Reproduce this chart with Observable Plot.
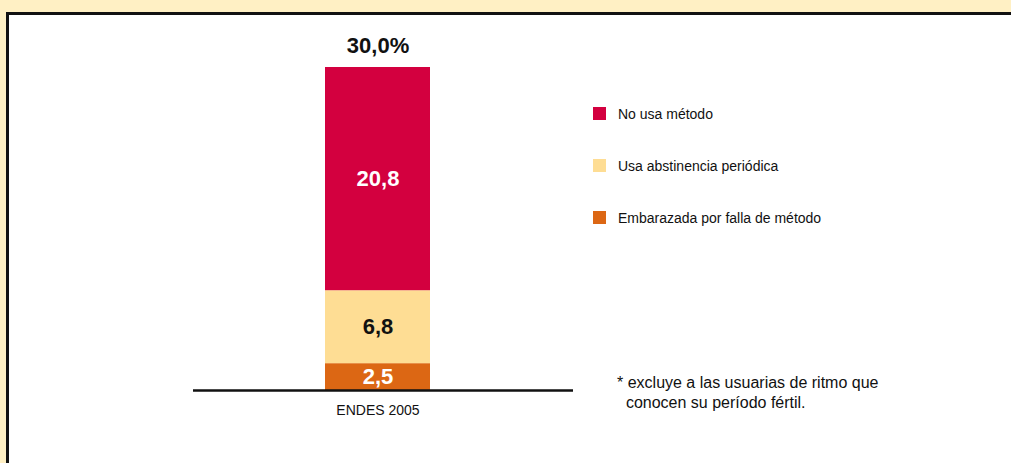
<!DOCTYPE html>
<html>
<head>
<meta charset="utf-8">
<script src="https://cdn.jsdelivr.net/npm/d3@7"></script>
<script src="https://cdn.jsdelivr.net/npm/@observablehq/plot@0.6"></script>
<style>
  html, body { margin: 0; padding: 0; }
  body { width: 1011px; height: 463px; background: #fff0c4; position: relative; overflow: hidden; font-family: "Liberation Sans", Arial, sans-serif; }
  #panel { position: absolute; left: 6px; top: 12px; right: -10px; bottom: -10px; background: #fff; border-left: 3px solid #111; border-top: 3px solid #111; }
  #chart { position: absolute; left: 0; top: 0; }
  .legend { position: absolute; left: 593px; font-size: 14px; color: #111; }
  .legend .item { position: absolute; left: 0; white-space: nowrap; height: 14px; line-height: 14px; }
  .legend .sw { display: inline-block; width: 13px; height: 13px; vertical-align: top; margin-right: 12px; }
  .note { position: absolute; left: 617px; top: 373px; font-size: 16px; line-height: 20px; color: #111; white-space: pre; }
</style>
</head>
<body>
<div id="panel"></div>
<div id="chart"></div>
<div class="legend" id="legend"></div>
<div class="note">* excluye a las usuarias de ritmo que
  conocen su período fértil.</div>
<script>
const categories = ["ENDES 2005"];
const series = ["Embarazada por falla de método", "Usa abstinencia periódica", "No usa método"];
const values = [2.5, 6.8, 20.8];
const valueLabels = ["2,5", "6,8", "20,8"];
const labelColors = ["#ffffff", "#111111", "#ffffff"];
const colors = ["#dc6714", "#fedd94", "#d3003f"];
const legendOrder = ["No usa método", "Usa abstinencia periódica", "Embarazada por falla de método"];
const totalLabel = "30,0%";

const data = series.map((s, i) => ({
  cat: categories[0], series: s, value: values[i], label: valueLabels[i], tc: labelColors[i]
}));
const total = d3.sum(values);

const labelMark = (color) => Plot.text(data, Plot.stackY({
  x: "cat", y: "value", z: "series",
  text: d => d.tc === color ? d.label : "",
  fill: color, fontSize: 22, fontWeight: "bold"
}));

const plot = Plot.plot({
  width: 1011,
  height: 463,
  marginLeft: 193,
  marginRight: 438,
  marginTop: 67,
  marginBottom: 73,
  style: { fontFamily: "'Liberation Sans', Arial, sans-serif", background: "transparent", overflow: "visible" },
  x: { domain: categories, range: [325, 430], padding: 0, axis: null },
  y: { domain: [0, total], axis: null },
  color: { domain: series, range: colors },
  marks: [
    Plot.barY(data, { x: "cat", y: "value", fill: "series" }),
    labelMark("#ffffff"),
    labelMark("#111111"),
    Plot.text([total], { x: () => categories[0], y: d => d, text: () => totalLabel, dy: -22, fontSize: 22, fontWeight: "bold", fill: "#111" }),
    Plot.ruleY([0], { stroke: "#111", strokeWidth: 2.5 }),
    Plot.axisX({ tickSize: 0, tickPadding: 15, fontSize: 14, label: null, fill: "#111" })
  ]
});
document.getElementById("chart").appendChild(plot);

const legend = document.getElementById("legend");
legendOrder.forEach((s, i) => {
  const item = document.createElement("div");
  item.className = "item";
  item.style.top = (107 + i * 52) + "px";
  const sw = document.createElement("span");
  sw.className = "sw";
  sw.style.background = colors[series.indexOf(s)];
  item.appendChild(sw);
  item.appendChild(document.createTextNode(s));
  legend.appendChild(item);
});
</script>
</body>
</html>
